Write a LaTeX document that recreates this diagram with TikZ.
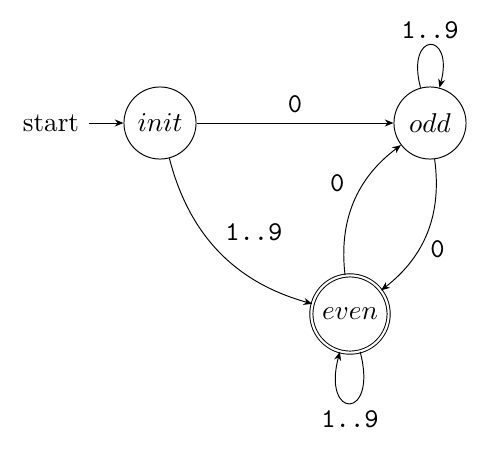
\documentclass[tikz,border=0pt]{standalone}
\usetikzlibrary{automata,arrows.meta}
\begin{document}
\begin{tikzpicture}[x=0.3676pt,y=-0.3676pt,
  >={Stealth[length=3.2pt,width=2.6pt]},
  statebox/.style={circle,draw,line width=0.35pt,minimum size=26.5pt,inner sep=3pt},
  finalbox/.style={statebox,double,double distance=0.8pt},
  trans/.style={->,line width=0.35pt},
  lbl/.style={font=\ttfamily,inner sep=2pt}]
  \useasboundingbox (0,0) rectangle (480,451);

  % states
  \node[statebox] (init) at (160,123) {$init$};
  \node[statebox] (odd)  at (430,123) {$odd$};
  \node[finalbox] (even) at (350,314) {$even$};

  % initial marker
  \node (start) at (51,123) {start};
  \draw[trans] (start) -- (init);

  % transitions
  \draw[trans] (init) -- node[lbl,above=1.5pt] {0} (odd);
  \draw[trans] (init) to[bend right=30] node[lbl,above right=1pt,pos=0.48] {1..9} (even);
  \draw[trans] (even) to[bend left=30] node[lbl,left=5pt,pos=0.65] {0} (odd);
  \draw[trans] (odd) to[bend left=30] node[lbl,right=2pt,pos=0.63] {0} (even);
  \draw[trans] (odd) to[loop above] node[lbl,above] {1..9} (odd);
  \draw[trans] (even) to[loop below,looseness=9] node[lbl,below=0.5pt] {1..9} (even);
\end{tikzpicture}
\end{document}
